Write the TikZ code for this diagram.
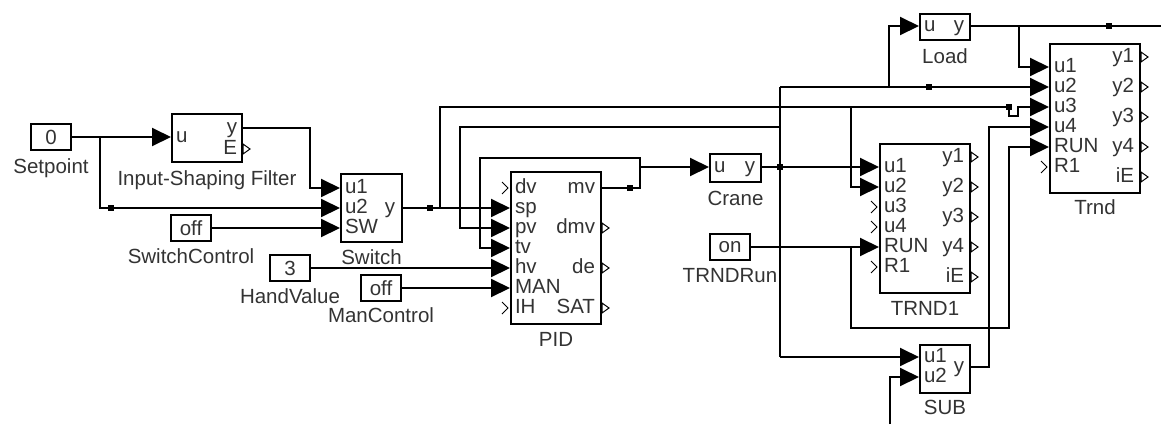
\documentclass[tikz,border=0pt]{standalone}
\usepackage{fontspec}
\setmainfont{Liberation Sans}
\usepackage{tikz}
\usetikzlibrary{positioning,arrows.meta,calc}

\begin{document}
\begin{tikzpicture}[
    x=1pt, y=-1pt,
    line width=2pt,
    every node/.style={font=\fontsize{20.5}{22}\selectfont, text=black!80, inner sep=0pt},
    block/.style={draw=black, rectangle, anchor=north west},
    srcbox/.style={draw=black, rectangle, minimum width=40pt, minimum height=26pt},
    blkname/.style={text height=15pt, text depth=4pt},
    portlbl/.style={text height=12pt, text depth=2pt},
    wire/.style={draw=black, line width=2pt},
    feed/.style={wire, -{Triangle[length=19pt, width=18pt]}},
    jdot/.style={fill=black, rectangle, minimum size=6pt},
    openport/.style={draw=black, line width=1pt}
]
\useasboundingbox (0,0) rectangle (1161,424);

% Konstanten
\node[srcbox] (setp) at (51,137) {0};
\node[srcbox] (swc) at (191,228) {off};
\node[srcbox] (hand) at (290,268) {3};
\node[srcbox] (manc) at (381,288) {off};
\node[srcbox] (trun) at (730,247) {on};

% Bloecke
\node[block, minimum width=70pt, minimum height=48pt] (flt) at (171,113) {};
\node[block, minimum width=61pt, minimum height=68pt] (sw) at (340,173) {};
\node[block, minimum width=90pt, minimum height=152pt] (pid) at (510,171) {};
\node[block, minimum width=51pt, minimum height=28pt] (crane) at (709,153) {};
\node[block, minimum width=50pt, minimum height=26pt] (load) at (919,13) {};
\node[block, minimum width=90pt, minimum height=149pt] (trnd1) at (879,143) {};
\node[block, minimum width=90pt, minimum height=149pt] (trnd) at (1049,43) {};
\node[block, minimum width=50pt, minimum height=48pt] (sub) at (919,344) {};

% Namen unter den Bloecken
\node[blkname, below=6pt of setp] (n-setp) {Setpoint};
\node[blkname, below=6pt of flt] (n-flt) {Input-Shaping Filter};
\node[blkname, below=5pt of swc] (n-swc) {SwitchControl};
\node[blkname, below=5pt of sw] (n-sw) {Switch};
\node[blkname, below=5pt of hand] (n-hand) {HandValue};
\node[blkname, below=4pt of manc] (n-manc) {ManControl};
\node[blkname, below=5pt of pid] (n-pid) {PID};
\node[blkname, below=6pt of crane] (n-crane) {Crane};
\node[blkname, below=5pt of trun] (n-trun) {TRNDRun};
\node[blkname, below=6pt of load] (n-load) {Load};
\node[blkname, below=5pt of trnd1] (n-trnd1) {TRND1};
\node[blkname, below=4pt of trnd] (n-trnd) {Trnd};
\node[blkname, below=4pt of sub] (n-sub) {SUB};

% Ports
\node[portlbl, anchor=west] (flt-u) at (175,137) {u};
\node[portlbl, anchor=east] (flt-y) at (238,128) {y};
\node[portlbl, anchor=east] (flt-E) at (238,149) {E};
\foreach \p/\y in {u1/188, u2/208, SW/228}
  \node[portlbl, anchor=west] (sw-\p) at (344,\y) {\p};
\node[portlbl, anchor=east] (sw-y) at (396,208) {y};
\foreach \p/\y in {dv/188, sp/208, pv/228, tv/248, hv/268, MAN/288, IH/308}
  \node[portlbl, anchor=west] (pid-\p) at (514,\y) {\p};
\foreach \p/\y in {mv/188, dmv/228, de/268, SAT/308}
  \node[portlbl, anchor=east] (pid-\p) at (596,\y) {\p};
\node[portlbl, anchor=west] (crane-u) at (713,167) {u};
\node[portlbl, anchor=east] (crane-y) at (756,167) {y};
\node[portlbl, anchor=west] (load-u) at (923,26) {u};
\node[portlbl, anchor=east] (load-y) at (965,26) {y};
\foreach \p/\y in {u1/167, u2/187, u3/207, u4/227, RUN/247, R1/267}
  \node[portlbl, anchor=west] (trnd1-\p) at (883,\y) {\p};
\foreach \p/\y in {y1/157, y2/187, y3/217, y4/247, iE/277}
  \node[portlbl, anchor=east] (trnd1-\p) at (965,\y) {\p};
\foreach \p/\y in {u1/67, u2/87, u3/107, u4/127, RUN/147, R1/167}
  \node[portlbl, anchor=west] (trnd-\p) at (1053,\y) {\p};
\foreach \p/\y in {y1/57, y2/87, y3/117, y4/147, iE/177}
  \node[portlbl, anchor=east] (trnd-\p) at (1135,\y) {\p};
\node[portlbl, anchor=west] (sub-u1) at (923,357) {u1};
\node[portlbl, anchor=west] (sub-u2) at (923,377) {u2};
\node[portlbl, anchor=east] (sub-y) at (965,367) {y};

% offene Ein- und Ausgaenge
\foreach \x/\y in {510/188, 510/308, 879/207, 879/227, 879/267, 1049/167}
  \draw[openport] (\x,\y) +(-8,-6) -- +(-2,0) -- +(-8,6);
\foreach \x/\y in {241/149, 600/228, 600/268, 600/308, 969/157, 969/187, 969/217, 969/247, 969/277, 1139/57, 1139/87, 1139/117, 1139/147, 1139/177}
  \draw[openport] (\x,\y) +(2,-5) -- +(9,0) -- +(2,5) -- cycle;

% Verzweigungen und Knicke
\coordinate (spt-br) at (100,137);
\coordinate (flt-bend) at (310,188);
\coordinate (sp-br) at (440,208);
\coordinate (u3-hop) at (1009,107);
\coordinate (u2-br) at (851,107);
\coordinate (mv-br) at (640,188);
\coordinate (cr-br) at (640,167);
\coordinate (tv-bend) at (480,158);
\coordinate (cr-top) at (780,87);
\coordinate (cr-bot) at (780,357);
\coordinate (pv-br) at (780,127);
\coordinate (pv-bend) at (460,127);
\coordinate (ld-br) at (889,87);
\coordinate (ld-end) at (1161,26);
\coordinate (u1-br) at (1019,26);
\coordinate (run-br) at (851,247);
\coordinate (run-bend) at (1009,328);
\coordinate (sub-bend) at (989,367);
\coordinate (sub-in) at (890,424);

% Signale
\draw[feed] (setp.east) -- (flt.west |- flt-u);
\draw[feed] (spt-br) |- (sw.west |- sw-u2);
\draw[feed] (flt.east |- flt-y) -| (flt-bend) -- (sw.west |- sw-u1);
\draw[feed] (swc.east) -- (sw.west |- sw-SW);
\draw[feed] (sw.east |- sw-y) -- (pid.west |- pid-sp);
\draw[feed] (sp-br) |- (u3-hop) -- ++(0,9) -- ++(9,0) -- ++(0,-9) -- (trnd.west |- trnd-u3);
\draw[feed] (u2-br) |- (trnd1.west |- trnd1-u2);
\draw[feed] (hand.east) -- (pid.west |- pid-hv);
\draw[feed] (manc.east) -- (pid.west |- pid-MAN);
\draw[feed] (pid.east |- pid-mv) -- (mv-br) |- (tv-bend) |- (pid.west |- pid-tv);
\draw[feed] (cr-br) -- (crane.west |- crane-u);
\draw[feed] (crane.east |- crane-y) -- (trnd1.west |- trnd1-u1);
\draw[wire] (cr-top) -- (cr-bot);
\draw[feed] (cr-top) -- (trnd.west |- trnd-u2);
\draw[feed] (cr-bot) -- (sub.west |- sub-u1);
\draw[feed] (pv-br) -- (pv-bend) |- (pid.west |- pid-pv);
\draw[feed] (ld-br) |- (load.west |- load-u);
\draw[wire] (load.east |- load-y) -- (ld-end);
\draw[feed] (u1-br) |- (trnd.west |- trnd-u1);
\draw[feed] (trun.east) -- (trnd1.west |- trnd1-RUN);
\draw[feed] (run-br) |- (run-bend) |- (trnd.west |- trnd-RUN);
\draw[feed] (sub.east |- sub-y) -- (sub-bend) |- (trnd.west |- trnd-u4);
\draw[feed] (sub-in) |- (sub.west |- sub-u2);

% Knotenpunkte
\node[jdot] (d1) at (111,208) {};
\node[jdot] (d2) at (430,208) {};
\node[jdot] (d3) at (630,188) {};
\node[jdot] (d4) at (780,167) {};
\node[jdot] (d5) at (929,87) {};
\node[jdot] (d6) at (1009,107) {};
\node[jdot] (d7) at (1109,26) {};

\end{tikzpicture}
\end{document}
